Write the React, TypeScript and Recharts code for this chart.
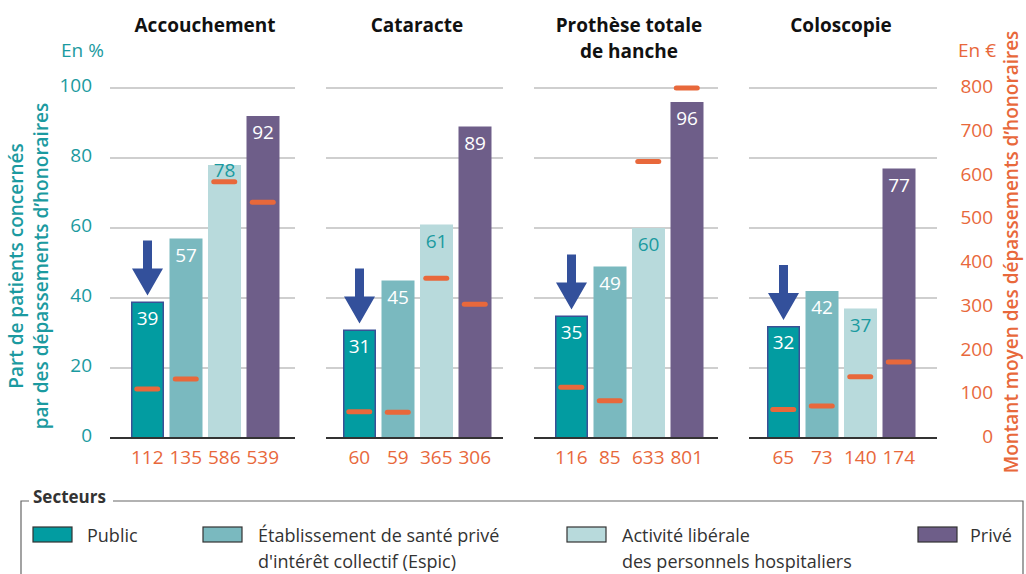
import React from 'react'
import { ComposedChart, Bar, Line, XAxis, YAxis, CartesianGrid } from 'recharts'

// procedures (title lines), sectors and values
const procedureTitles = [['Accouchement'], ['Cataracte'], ['Prothèse totale', 'de hanche'], ['Coloscopie']]
const sectors = ['Public', 'Espic', 'Activité libérale', 'Privé']
const sharePct = [
  [39, 57, 78, 92],
  [31, 45, 61, 89],
  [35, 49, 60, 96],
  [32, 42, 37, 77],
]
const amountEur = [
  [112, 135, 586, 539],
  [60, 59, 365, 306],
  [116, 85, 633, 801],
  [65, 73, 140, 174],
]
const pctTicks = [0, 20, 40, 60, 80, 100]
const eurTicks = [0, 100, 200, 300, 400, 500, 600, 700, 800]
const legendLabels = [
  ['Public'],
  ['Établissement de santé privé', "d'intérêt collectif (Espic)"],
  ['Activité libérale', 'des personnels hospitaliers'],
  ['Privé'],
]

const PCT_MAX = 100
const EUR_MAX = 800

const FONT = "'Open Sans', 'Noto Sans', sans-serif"
const TEAL_TEXT = '#1b9aa0'
const ORANGE = '#e8683b'
const ARROW = '#33509b'
const sectorColors = ['#029ca1', '#7ab9bf', '#b8dadc', '#6e5e89']

const CHART_H = 480
const PLOT_TOP = 88
const BAR = 33
const LEFT_TICK_X = 92

const panels = [
  { left: 0, width: 295, plotLeft: 110, plotW: 185, padL: 18, padR: 13 },
  { left: 326, width: 177, plotLeft: 326, plotW: 177, padL: 14, padR: 9 },
  { left: 534, width: 184, plotLeft: 534, plotW: 184, padL: 18, padR: 12 },
  { left: 749, width: 277, plotLeft: 749, plotW: 188, padL: 15, padR: 19 },
]

function BarShape(props: any) {
  const { x, y, width, height, payload } = props
  const i = sectors.indexOf(payload.sector)
  const cx = x + width / 2
  // keep the value label clear of the orange marker when it sits just under the bar top
  const pxPerPct = height / payload.pct
  const dashY = y + height - (payload.eur / EUR_MAX) * PCT_MAX * pxPerPct
  const labelY = dashY > y && dashY - y < 30 ? y + 12 : y + 23
  const tip = y - 6
  return (
    <g>
      {i === 0 ? (
        <rect x={x + 0.75} y={y + 0.75} width={width - 1.5} height={height - 0.75} fill={sectorColors[0]} stroke="#3a5096" strokeWidth={1.5} />
      ) : (
        <rect x={x} y={y} width={width} height={height} fill={sectorColors[i]} />
      )}
      <text x={cx} y={labelY} textAnchor="middle" fontSize={19} fontFamily={FONT} fill={i === 2 ? TEAL_TEXT : '#ffffff'}>
        {payload.pct}
      </text>
      {i === 0 && (
        <polygon
          fill={ARROW}
          points={`${cx - 4.5},${tip - 55} ${cx + 4.5},${tip - 55} ${cx + 4.5},${tip - 27} ${cx + 15.5},${tip - 27} ${cx},${tip} ${cx - 15.5},${tip - 27} ${cx - 4.5},${tip - 27}`}
        />
      )}
    </g>
  )
}

function DashDot(props: any) {
  const { cx, cy, index } = props
  if (cx == null || cy == null) return <g key={index} />
  return <rect key={index} x={cx - 13} y={cy - 2.5} width={26} height={5} rx={2.5} fill={ORANGE} />
}

function LeftTick(props: any) {
  const { y, payload } = props
  return (
    <text x={LEFT_TICK_X} y={y} dy={4} textAnchor="end" fontSize={19} fontFamily={FONT} fill={TEAL_TEXT}>
      {payload.value}
    </text>
  )
}

function RightTick(props: any) {
  const { x, y, payload } = props
  return (
    <text x={x + 56} y={y} dy={5} textAnchor="end" fontSize={19} fontFamily={FONT} fill={ORANGE}>
      {payload.value}
    </text>
  )
}

function Panel({ p }: { p: number }) {
  const lay = panels[p]
  const data = sectors.map((s, i) => ({ sector: s, pct: sharePct[p][i], eur: amountEur[p][i] }))
  return (
    <div style={{ position: 'absolute', left: lay.left, top: 0 }}>
      <ComposedChart width={lay.width} height={CHART_H} data={data} margin={{ top: PLOT_TOP, right: 0, bottom: 0, left: 0 }}>
        <CartesianGrid yAxisId="pct" vertical={false} stroke="#bfbfbf" strokeWidth={1.5} />
        <XAxis
          dataKey="sector"
          height={42}
          interval={0}
          padding={{ left: lay.padL, right: lay.padR }}
          tickLine={false}
          tickSize={0}
          tickMargin={13}
          axisLine={{ stroke: '#333', strokeWidth: 2 }}
          tick={{ fill: ORANGE, fontSize: 19, fontFamily: FONT }}
          tickFormatter={(_v: any, i: number) => String(amountEur[p][i])}
        />
        {p === 0 ? (
          <YAxis
            yAxisId="pct"
            width={110}
            domain={[0, PCT_MAX]}
            ticks={pctTicks}
            tickLine={false}
            axisLine={false}
            tickSize={0}
            tickMargin={18}
            tick={<LeftTick />}
          />
        ) : (
          <YAxis yAxisId="pct" hide domain={[0, PCT_MAX]} ticks={pctTicks} />
        )}
        {p === 3 ? (
          <YAxis
            yAxisId="eur"
            orientation="right"
            width={89}
            domain={[0, EUR_MAX]}
            ticks={eurTicks}
            tickLine={false}
            axisLine={false}
            tickSize={0}
            tickMargin={0}
            tick={<RightTick />}
          />
        ) : (
          <YAxis yAxisId="eur" hide domain={[0, EUR_MAX]} ticks={eurTicks} />
        )}
        <Bar yAxisId="pct" dataKey="pct" barSize={BAR} shape={<BarShape />} isAnimationActive={false} />
        <Line
          yAxisId="eur"
          dataKey="eur"
          stroke="none"
          dot={(d: any) => <DashDot {...d} />}
          activeDot={false}
          isAnimationActive={false}
        />
      </ComposedChart>
    </div>
  )
}

export default function App() {
  return (
    <div style={{ position: 'absolute', left: 0, top: 0, width: 1026, height: 574, background: '#fff', fontFamily: FONT, overflow: 'hidden' }}>
      {panels.map((_, p) => (
        <Panel key={p} p={p} />
      ))}
      <svg width={1026} height={574} style={{ position: 'absolute', left: 0, top: 0, pointerEvents: 'none' }} fontFamily={FONT}>
        {procedureTitles.map((lines, p) => {
          const lay = panels[p]
          const cx = lay.plotLeft + lay.padL + ((lay.plotW - lay.padL - lay.padR) / 4) * 2
          return lines.map((t, k) => (
            <text key={`${p}-${k}`} x={cx} y={32 + k * 26} textAnchor="middle" fontSize={19} fontWeight={700} fill="#111">
              {t}
            </text>
          ))
        })}
        <text x={61} y={57} fontSize={19} fill={TEAL_TEXT}>En %</text>
        <text x={958} y={57} fontSize={19} fill={ORANGE}>En €</text>
        <g transform="translate(23,266) rotate(-90)">
          <text textAnchor="middle" fontSize={19} fontWeight={600} fill={TEAL_TEXT}>Part de patients concernés</text>
        </g>
        <g transform="translate(48,266) rotate(-90)">
          <text textAnchor="middle" fontSize={19} fontWeight={600} fill={TEAL_TEXT}>par des dépassements d’honoraires</text>
        </g>
        <g transform="translate(1018,252) rotate(-90)">
          <text textAnchor="middle" fontSize={19} fontWeight={600} fill={ORANGE}>Montant moyen des dépassements d’honoraires</text>
        </g>

        {/* legend frame */}
        <path d="M21 574 V501 H29 M113 501 H1023 V574" fill="none" stroke="#666" strokeWidth={1.2} />
        <text x={33} y={503} fontSize={17} fontWeight={700} fill="#333">Secteurs</text>
        {legendLabels.map((lines, i) => {
          const sx = [33, 203, 567, 918][i]
          return (
            <g key={i}>
              <rect x={sx} y={527} width={39} height={15} fill={sectorColors[i]} stroke="#333" strokeWidth={1.2} />
              {lines.map((t, k) => (
                <text key={k} x={sx + [54, 55, 55, 52][i]} y={542 + k * 26} fontSize={18} fill="#333">
                  {t}
                </text>
              ))}
            </g>
          )
        })}
      </svg>
    </div>
  )
}
